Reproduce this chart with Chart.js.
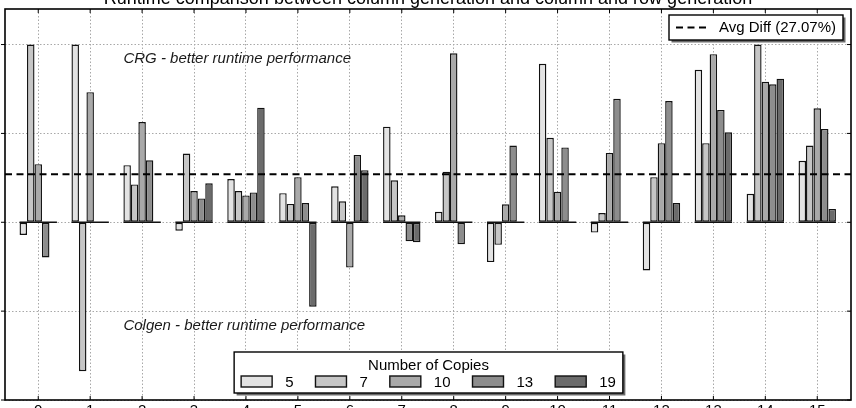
<!DOCTYPE html>
<html><head><meta charset="utf-8">
<script src="https://cdn.jsdelivr.net/npm/chart.js@4.4.1/dist/chart.umd.min.js"></script>
<style>
html,body{margin:0;padding:0;background:#fff;overflow:hidden;width:856px;height:408px;}
#wrap{position:absolute;left:-45px;top:-30px;width:901px;height:468px;}
</style></head><body>
<div id="wrap"><canvas id="c"></canvas></div>
<script>
const categories = [0,1,2,3,4,5,6,7,8,9,10,11,12,13,14,15];
const seriesNames = ['5','7','10','13','19'];
const copies5  = [-7.1, 100, 32.1, -4.7, 24.3, 16.4, 20.2, 53.8, 5.9, -22.4, 89.2, -5.8, -27.1, 85.8, 16.0, 34.6];
const copies7  = [100, -83.8, 21.3, 38.7, 17.6, 10.3, 11.8, 23.6, 28.4, -12.7, 47.5, 5.2, 25.4, 44.5, 100, 43.2];
const copies10 = [32.7, 73.2, 56.4, 17.6, 15.1, 25.4, -25.5, 3.9, 95.1, 10.1, 17.2, 39.0, 44.5, 94.6, 79.1, 64.1];
const copies13 = [-19.8, 0, 34.9, 13.4, 16.8, 10.8, 37.9, -10.7, -12.3, 43.2, 42.1, 69.5, 68.2, 63.2, 77.6, 52.5];
const copies19 = [0, 0, 0, 21.9, 64.5, -47.5, 29.3, -11.2, 0, 0, 0, 0, 10.8, 50.6, 80.8, 7.5];
const avgDiff = 27.07;
const avgLabel = 'Avg Diff (27.07%)';
const yTicks = [-100, -50, 0, 50, 100];
const xTicks = categories;
const xMin = -0.64, xMax = 15.65;
const yMin = -100, yMax = 120;
const titleText = 'Runtime comparison between column generation and column and row generation';
const legendTitle = 'Number of Copies';
const noteTop = {text: 'CRG - better runtime performance', x: 1.64, y: 89.7};
const noteBottom = {text: 'Colgen - better runtime performance', x: 1.64, y: -60.4};

const seriesValues = [copies5, copies7, copies10, copies13, copies19];
const colors = ['#e3e3e3', '#c6c6c6', '#a9a9a9', '#8d8d8d', '#6b6b6b'];
const FONT = '"Liberation Sans", Arial, sans-serif';

const barSets = seriesValues.map((vals, k) => ({
  type: 'bar',
  label: seriesNames[k],
  data: categories.map((c, i) => ({x: c, y: vals[i]})),
  backgroundColor: colors[k],
  borderColor: '#111',
  borderWidth: 1.4,
  borderSkipped: false,
  categoryPercentage: 0.72,
  barPercentage: 1.0,
  order: 1
}));
const avgSet = {
  type: 'line',
  label: avgLabel,
  data: [{x: xMin, y: avgDiff}, {x: xMax, y: avgDiff}],
  borderColor: '#000',
  borderWidth: 2,
  borderDash: [7, 4.5],
  pointRadius: 0,
  order: 0
};

function box(ctx, x, y, w, h) {
  ctx.save();
  ctx.fillStyle = '#6a6a6a';
  ctx.fillRect(x + 2.5, y + 2.5, w, h);
  ctx.fillStyle = '#fff';
  ctx.fillRect(x, y, w, h);
  ctx.strokeStyle = '#000';
  ctx.lineWidth = 1.4;
  ctx.strokeRect(x, y, w, h);
  ctx.restore();
}

const overlay = {
  id: 'overlay',
  afterDatasetsDraw(chart) {
    const ctx = chart.ctx, ys = chart.scales.y;
    const y0 = ys.getPixelForValue(0);
    const metas = chart.getSortedVisibleDatasetMetas().filter(m => m.type === 'bar');
    ctx.save();
    ctx.strokeStyle = '#111';
    ctx.lineWidth = 1.4;
    categories.forEach((c, i) => {
      let l = Infinity, r = -Infinity;
      metas.forEach(m => {
        const el = m.data[i];
        if (!el) return;
        l = Math.min(l, el.x - el.width / 2);
        r = Math.max(r, el.x + el.width / 2);
      });
      ctx.beginPath(); ctx.moveTo(l, y0); ctx.lineTo(r, y0); ctx.stroke();
    });
    ctx.restore();
  },
  afterDraw(chart) {
    const ctx = chart.ctx, ca = chart.chartArea, xs = chart.scales.x, ys = chart.scales.y;
    ctx.save();
    ctx.strokeStyle = '#000';
    ctx.lineWidth = 1.6;
    ctx.strokeRect(ca.left, ca.top, ca.right - ca.left, ca.bottom - ca.top);
    ctx.lineWidth = 1;
    yTicks.forEach(v => {
      const y = ys.getPixelForValue(v);
      ctx.beginPath(); ctx.moveTo(ca.left - 4, y); ctx.lineTo(ca.left, y); ctx.stroke();
      ctx.beginPath(); ctx.moveTo(ca.right - 4, y); ctx.lineTo(ca.right, y); ctx.stroke();
    });
    xTicks.forEach(v => {
      const x = xs.getPixelForValue(v);
      ctx.beginPath(); ctx.moveTo(x, ca.top); ctx.lineTo(x, ca.top + 4); ctx.stroke();
      ctx.beginPath(); ctx.moveTo(x, ca.bottom - 4); ctx.lineTo(x, ca.bottom); ctx.stroke();
    });
    ctx.fillStyle = '#000';
    ctx.font = '18px ' + FONT;
    ctx.textAlign = 'center';
    ctx.textBaseline = 'alphabetic';
    ctx.fillText(titleText, (ca.left + ca.right) / 2, ca.top - 5.5);
    ctx.font = 'italic 15px ' + FONT;
    ctx.textAlign = 'left';
    ctx.fillStyle = '#1a1a1a';
    [noteTop, noteBottom].forEach(n => {
      ctx.fillText(n.text, xs.getPixelForValue(n.x), ys.getPixelForValue(n.y));
    });
    {
      const w = 174, h = 25;
      const bx = ca.right - 8 - w, by = ca.top + 6;
      box(ctx, bx, by, w, h);
      ctx.strokeStyle = '#000';
      ctx.lineWidth = 2;
      ctx.setLineDash([7, 4.5]);
      ctx.beginPath(); ctx.moveTo(bx + 7, by + 12.5); ctx.lineTo(bx + 37, by + 12.5); ctx.stroke();
      ctx.setLineDash([]);
      ctx.font = '15px ' + FONT;
      ctx.fillStyle = '#000';
      ctx.textAlign = 'left';
      ctx.fillText(avgLabel, bx + 50, by + 17);
    }
    {
      ctx.font = '15px ' + FONT;
      const sw = 31, sh = 11, gap = 13, col = 22, pad = 7;
      const tw = seriesNames.map(s => ctx.measureText(s).width);
      let inner = 0;
      tw.forEach((t, k) => { inner += sw + gap + t + (k < tw.length - 1 ? col : 0); });
      const w = inner + 2 * pad, h = 41;
      const cx = (ca.left + ca.right) / 2 + 0.5;
      const bx = cx - w / 2, by = ca.bottom - 7 - h;
      box(ctx, bx, by, w, h);
      ctx.fillStyle = '#000';
      ctx.textAlign = 'center';
      ctx.fillText(legendTitle, cx, by + 18);
      ctx.textAlign = 'left';
      let x = bx + pad;
      seriesNames.forEach((s, k) => {
        ctx.fillStyle = colors[k];
        ctx.fillRect(x, by + 24, sw, sh);
        ctx.strokeStyle = '#111';
        ctx.lineWidth = 1.4;
        ctx.strokeRect(x, by + 24, sw, sh);
        ctx.fillStyle = '#000';
        ctx.fillText(s, x + sw + gap, by + 35);
        x += sw + gap + tw[k] + col;
      });
    }
    ctx.restore();
  }
};

new Chart(document.getElementById('c'), {
  data: {datasets: [...barSets, avgSet]},
  options: {
    animation: false,
    responsive: true,
    maintainAspectRatio: false,
    devicePixelRatio: 1,
    layout: {padding: {top: 39, right: 5, left: 0, bottom: 0}},
    plugins: {legend: {display: false}, tooltip: {enabled: false}, title: {display: false}},
    scales: {
      x: {
        type: 'linear', min: xMin, max: xMax, offset: false,
        afterBuildTicks: s => { s.ticks = xTicks.map(v => ({value: v})); },
        afterFit: s => { s.height = 38; },
        grid: {color: '#a8a8a8', lineWidth: 1, drawTicks: false, offset: false},
        border: {display: false, dash: [1.5, 2]},
        ticks: {color: '#000', font: {family: FONT, size: 15}, padding: 2, callback: v => String(v)}
      },
      y: {
        type: 'linear', min: yMin, max: yMax,
        afterBuildTicks: s => { s.ticks = yTicks.map(v => ({value: v})); },
        afterFit: s => { s.width = 50; },
        grid: {color: '#a8a8a8', lineWidth: 1, drawTicks: false},
        border: {display: false, dash: [1.5, 2]},
        ticks: {color: '#000', font: {family: FONT, size: 15}, padding: 10, callback: v => String(v)}
      }
    }
  },
  plugins: [overlay]
});
</script>
</body></html>
